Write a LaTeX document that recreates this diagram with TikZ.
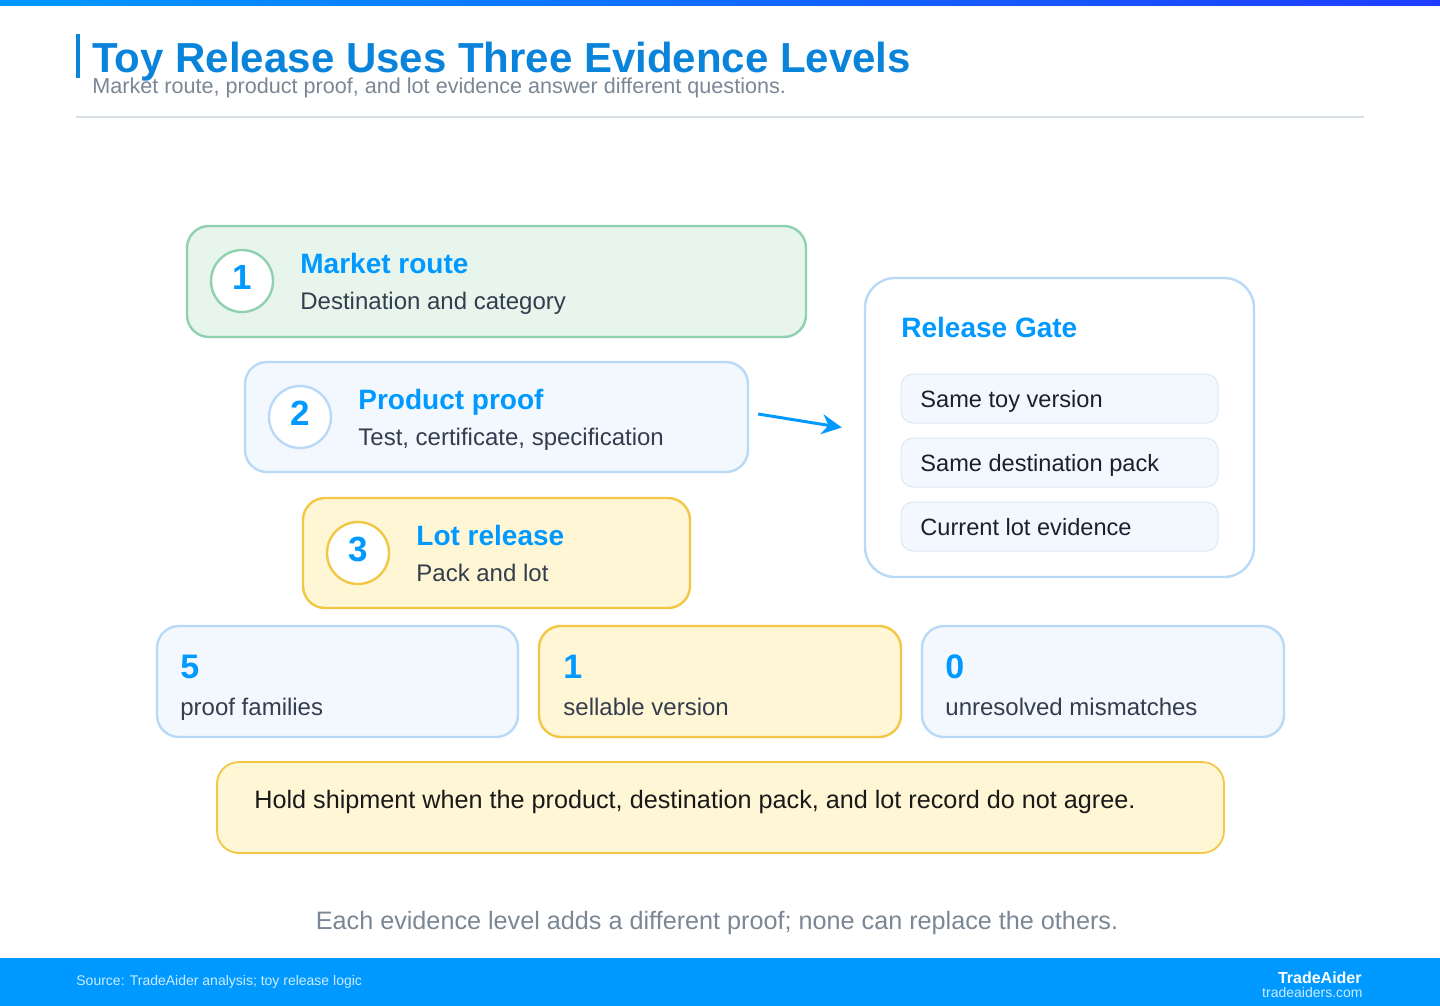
\documentclass[tikz,border=0pt]{standalone}
\usepackage{fontspec}
\setmainfont{Liberation Sans}
\usepackage{xcolor}
\usetikzlibrary{positioning, arrows.meta}

\definecolor{barL}{HTML}{0099FF}
\definecolor{barR}{HTML}{1E3CFF}
\definecolor{titleblue}{HTML}{0A84DA}
\definecolor{accent}{HTML}{0099FF}
\definecolor{subgray}{HTML}{7B8794}
\definecolor{rulegray}{HTML}{D6DEE6}
\definecolor{greenfill}{HTML}{E7F5EC}
\definecolor{greenline}{HTML}{8FD1AF}
\definecolor{bluefill}{HTML}{F3F8FF}
\definecolor{blueline}{HTML}{B9D9F7}
\definecolor{yellowfill}{HTML}{FFF6D5}
\definecolor{yellowline}{HTML}{F3C746}
\definecolor{itemline}{HTML}{DCE8F5}
\definecolor{bodytext}{HTML}{333D4D}
\definecolor{darktext}{HTML}{1A2030}

\tikzset{
  card/.style={draw, rounded corners=11pt, line width=1.2pt, inner sep=0pt},
  badge/.style={draw, circle, fill=white, line width=1.2pt, minimum size=31pt, inner sep=0pt},
  badgenum/.style={inner sep=0pt, text=accent, font=\bfseries\fontsize{17.5}{20}\selectfont},
  ttl/.style={anchor=base west, inner sep=0pt, text=accent, font=\bfseries\fontsize{14}{16}\selectfont},
  sub/.style={anchor=base west, inner sep=0pt, text=bodytext, font=\fontsize{12}{14}\selectfont},
  item/.style={draw=itemline, fill=bluefill, rounded corners=6pt, line width=0.5pt,
    minimum width=158.5pt, minimum height=24.5pt, inner sep=0pt},
  itemtext/.style={anchor=base west, inner sep=0pt, text=darktext, font=\fontsize{11.8}{14}\selectfont},
  statnum/.style={anchor=base west, inner sep=0pt, text=accent, font=\bfseries\fontsize{17}{20}\selectfont},
  flow/.style={draw=accent, line width=1.5pt, -{Stealth[length=10pt, width=10pt]}}
}

\begin{document}
\begin{tikzpicture}[x=0.5pt, y=-0.5pt]
  \useasboundingbox (0,0) rectangle (1440,1006);
  \fill[white] (0,0) rectangle (1440,1006);

  % header
  \fill[left color=barL, right color=barR] (0,0) rectangle (1440,6);
  \fill[titleblue] (76,34) rectangle (80,78);
  \node[anchor=base west, inner sep=0pt, text=titleblue, font=\bfseries\fontsize{21}{25}\selectfont]
    (title) at (92,73) {Toy Release Uses Three Evidence Levels};
  \node[anchor=base west, inner sep=0pt, text=subgray, font=\fontsize{10.8}{13}\selectfont]
    (subtitle) at (92,94) {Market route, product proof, and lot evidence answer different questions.};
  \draw[rulegray, line width=0.6pt] (76,117) -- (1364,117);

  % evidence levels
  \node[card, draw=greenline, fill=greenfill, minimum width=309.5pt, minimum height=55.5pt] (lv1) at (496.5,281.5) {};
  \node[badge, draw=greenline] (b1) at (242,281) {};
  \node[badgenum] (b1n) at (242,277.5) {1};
  \node[ttl] (t1) at (300,273) {Market route};
  \node[sub] (s1) at (300,309) {Destination and category};

  \node[card, draw=blueline, fill=bluefill, minimum width=251.5pt, minimum height=55pt] (lv2) at (496.5,417) {};
  \node[badge, draw=blueline] (b2) at (300,417) {};
  \node[badgenum] (b2n) at (300,413.5) {2};
  \node[ttl] (t2) at (358,409) {Product proof};
  \node[sub] (s2) at (358,445) {Test, certificate, specification};

  \node[card, draw=yellowline, fill=yellowfill, minimum width=193.5pt, minimum height=55pt] (lv3) at (496.5,553) {};
  \node[badge, draw=yellowline] (b3) at (358,553) {};
  \node[badgenum] (b3n) at (358,549.5) {3};
  \node[ttl] (t3) at (416,545) {Lot release};
  \node[sub] (s3) at (416,581) {Pack and lot};

  % release gate
  \node[card, draw=blueline, fill=white, rounded corners=15pt, minimum width=194.5pt, minimum height=149.5pt] (gate) at (1059.5,427.5) {};
  \node[ttl] (gtitle) at (901,337) {Release Gate};
  \node[item] (g1) at (1059.5,398.5) {};
  \node[item] (g2) at (1059.5,462.5) {};
  \node[item] (g3) at (1059.5,526.5) {};
  \node[itemtext] (g1t) at (920,407) {Same toy version};
  \node[itemtext] (g2t) at (920,471) {Same destination pack};
  \node[itemtext] (g3t) at (920,535) {Current lot evidence};

  \draw[flow] ([shift={(9,-3)}]lv2.east) -- ([shift={(-22,0)}]gate.west);

  % stats
  \node[card, draw=blueline, fill=bluefill, minimum width=180.5pt, minimum height=55.5pt] (st1) at (337.5,681.5) {};
  \node[statnum] (n1) at (180,678) {5};
  \node[sub] (l1) at (180,715) {proof families};
  \node[card, draw=yellowline, fill=yellowfill, minimum width=181pt, minimum height=55.5pt] (st2) at (720,681.5) {};
  \node[statnum] (n2) at (563,678) {1};
  \node[sub] (l2) at (563,715) {sellable version};
  \node[card, draw=blueline, fill=bluefill, minimum width=181pt, minimum height=55.5pt] (st3) at (1103,681.5) {};
  \node[statnum] (n3) at (945,678) {0};
  \node[sub] (l3) at (945,715) {unresolved mismatches};

  % note
  \node[card, draw=yellowline, fill=yellowfill, line width=0.9pt, minimum width=503.5pt, minimum height=45.5pt] (note) at (720.5,807.5) {};
  \node[anchor=base west, inner sep=0pt, text=black!90, font=\fontsize{12.6}{15}\selectfont]
    (notetext) at (254,808) {Hold shipment when the product, destination pack, and lot record do not agree.};

  \node[anchor=base, inner sep=0pt, text=subgray, font=\fontsize{12.6}{15}\selectfont]
    (caption) at (717,929) {Each evidence level adds a different proof; none can replace the others.};

  % footer
  \fill[accent] (0,958) rectangle (1440,1006);
  \node[anchor=base west, inner sep=0pt, text=white!80!accent, font=\fontsize{7}{8}\selectfont]
    (source) at (76,985) {Source: TradeAider analysis; toy release logic};
  \node[anchor=base east, inner sep=0pt, text=white, font=\bfseries\fontsize{8}{9}\selectfont]
    (brand) at (1362,983) {TradeAider};
  \node[anchor=base east, inner sep=0pt, text=white!80!accent, font=\fontsize{7}{8}\selectfont]
    (site) at (1363,997) {tradeaiders.com};
\end{tikzpicture}
\end{document}
